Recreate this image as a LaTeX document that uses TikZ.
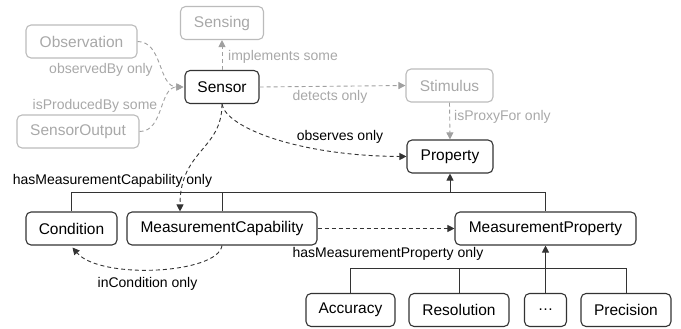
\documentclass[tikz,border=0pt]{standalone}
\usepackage{fontspec}
\setmainfont{Liberation Sans}
\usetikzlibrary{arrows.meta,calc}
\definecolor{gtext}{HTML}{A8A8A8}
\definecolor{gline}{HTML}{BBBBBB}
\definecolor{garrow}{HTML}{A0A0A0}
\definecolor{dline}{HTML}{333333}
\tikzset{
  box/.style={draw=dline, line width=1.1pt, rounded corners=5pt, inner sep=0pt, minimum height=33pt, font=\fontsize{15.5}{18}\selectfont, text=black},
  gbox/.style={box, draw=gline, text=gtext},
  lab/.style={font=\fontsize{14}{16}\selectfont, inner sep=0pt, text=black},
  glab/.style={lab, text=gtext},
  tip/.style={-{Triangle[length=7pt,width=7pt]}},
  darr/.style={tip, dashed, dash pattern=on 4pt off 3pt, line width=0.9pt, draw=dline},
  garr/.style={darr, draw=garrow, color=garrow},
  hier/.style={line width=0.9pt, draw=dline},
}
\begin{document}
\begin{tikzpicture}[x=1pt,y=-1pt]
\useasboundingbox (0,0) rectangle (681,329);
% nodes
\node[gbox, minimum width=83pt] (sensing) at (222,23) {Sensing};
\node[gbox, minimum width=111pt] (obs) at (81.5,41.5) {Observation};
\node[box, minimum width=74pt] (sensor) at (222,87) {Sensor};
\node[gbox, minimum width=122pt] (sout) at (78,131.5) {SensorOutput};
\node[gbox, minimum width=87pt] (stim) at (449.5,85.5) {Stimulus};
\node[box, minimum width=86pt] (prop) at (450,156.5) {Property};
\node[box, minimum width=91pt] (cond) at (71.5,228.5) {Condition};
\node[box, minimum width=190pt] (mc) at (222,228.5) {MeasurementCapability};
\node[box, minimum width=181pt] (mp) at (545.5,228.5) {MeasurementProperty};
\node[box, minimum width=89pt] (acc) at (350.5,310) {Accuracy};
\node[box, minimum width=100pt] (res) at (459,310) {Resolution};
\node[box, minimum width=42pt] (dots) at (545.5,310) {\dots};
\node[box, minimum width=90pt] (prec) at (626,310) {Precision};
% junction coordinates
\coordinate (sensorin) at ($(sensor.west)+(-1,0)$);
\coordinate (j1) at (cond.north |- 0,192);
\coordinate (j2) at (mp.north |- 0,192);
\coordinate (j3) at (mc.north |- 0,192);
\coordinate (jp) at (prop.south |- 0,192);
\coordinate (k1) at (acc.north |- 0,268);
\coordinate (k2) at (prec.north |- 0,268);
\coordinate (k3) at (res.north |- 0,268);
\coordinate (condin) at ($(cond.south)+(1,2)$);
% hierarchy
\draw[hier] (cond.north) -- (j1) -- (j2) -- (mp.north);
\draw[hier] (mc.north) -- (j3);
\draw[hier, tip] (jp) -- (prop.south);
\draw[hier] (acc.north) -- (k1) -- (k2) -- (prec.north);
\draw[hier] (res.north) -- (k3);
\draw[hier, tip] (dots.north) -- (mp.south);
% gray relations
\draw[garr] (obs.east) to[out=0,in=180] (sensorin);
\draw[garr] (sout.east) to[out=0,in=180] (sensorin);
\draw[garr] (sensor.north) -- (sensing.south);
\draw[garr] (sensor.east) -- (stim.west);
\draw[garr] (stim.south) -- (prop.north);
% black relations
\draw[darr] (sensor.south) .. controls (226,128) and (300,156) .. (prop.west);
\draw[darr] (sensor.south) .. controls (222,150) and (180,150) .. ($(mc.north)+(-42,0)$);
\draw[darr] (mc.east) -- (mp.west);
\draw[darr] (mc.south) .. controls (218,274) and (100,280) .. (condin);
% labels
\node[glab] (l1) at (101,70) {observedBy only};
\node[glab] (l2) at (95,106) {isProducedBy some};
\node[glab, anchor=west] (l3) at (228,57) {implements some};
\node[glab] (l4) at (330,97) {detects only};
\node[glab, anchor=west] (l5) at (454,117) {isProxyFor only};
\node[lab] (l6) at (340,137) {observes only};
\node[lab] (l7) at (112.5,181) {hasMeasurementCapability only};
\node[lab] (l8) at (388,254) {hasMeasurementProperty only};
\node[lab] (l9) at (147.5,284) {inCondition only};
\end{tikzpicture}
\end{document}
